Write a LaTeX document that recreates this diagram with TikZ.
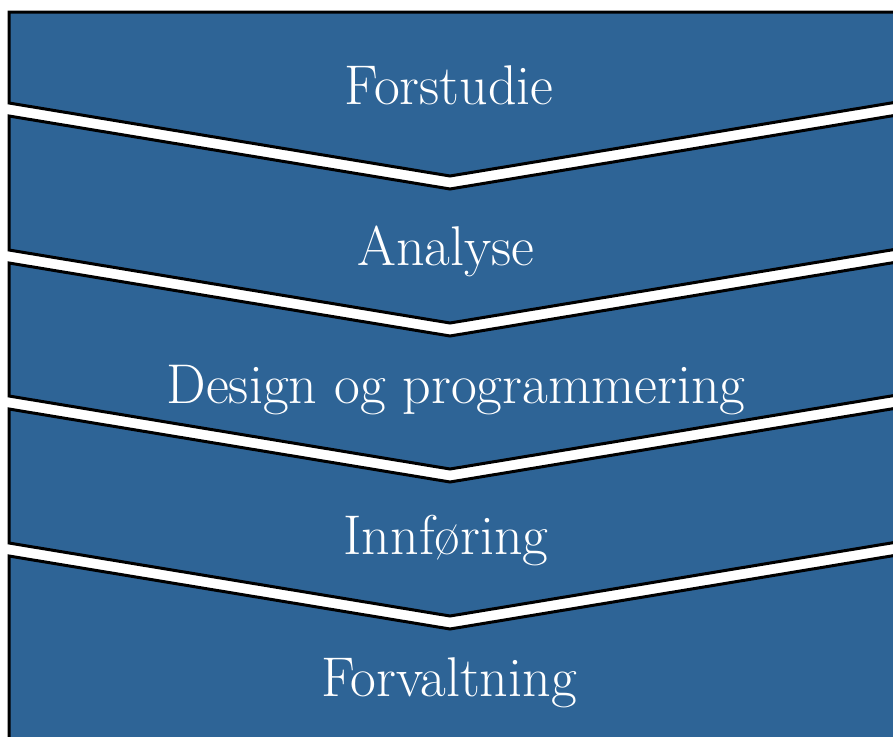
\documentclass[tikz,border=0pt]{standalone}
\usepackage{tikz}
\usetikzlibrary{calc}
\definecolor{phaseblue}{RGB}{46,100,150}

\begin{document}
\begin{tikzpicture}[x=1pt,y=-1pt,
	phasebox/.style={fill=phaseblue, draw=black, line width=3pt, line join=miter},
	phasetext/.style={text=white, font=\fontsize{56}{66}\selectfont, anchor=base}]
	\useasboundingbox (0,0) rectangle (893,736);
	\clip (0,0) rectangle (893,736);

	%First phase, flat top
	\draw [phasebox] (9,12) -- (905,12) -- (905,100.7) -- (450,176) -- (9,103) -- cycle;

	%Other phases, notched top
	\foreach \topY/\botY in {116/250, 263/396, 409/543, 556/780}{
		\draw [phasebox] (9,\topY) -- (450,\topY+73) -- (905,\topY-2.3)
			-- (905,\botY-2.3) -- (450,\botY+73) -- (9,\botY) -- cycle;
	}

	%Phase names
	\node [phasetext] (forstudie) at (449,104) {Forstudie};
	\node [phasetext] (analyse) at (446,265) {Analyse};
	\node [phasetext] (design) at (456,403) {Design og programmering};
	\node [phasetext] (innforing) at (446,554) {Innføring};
	\node [phasetext] (forvaltning) at (449,696) {Forvaltning};

\end{tikzpicture}
\end{document}
